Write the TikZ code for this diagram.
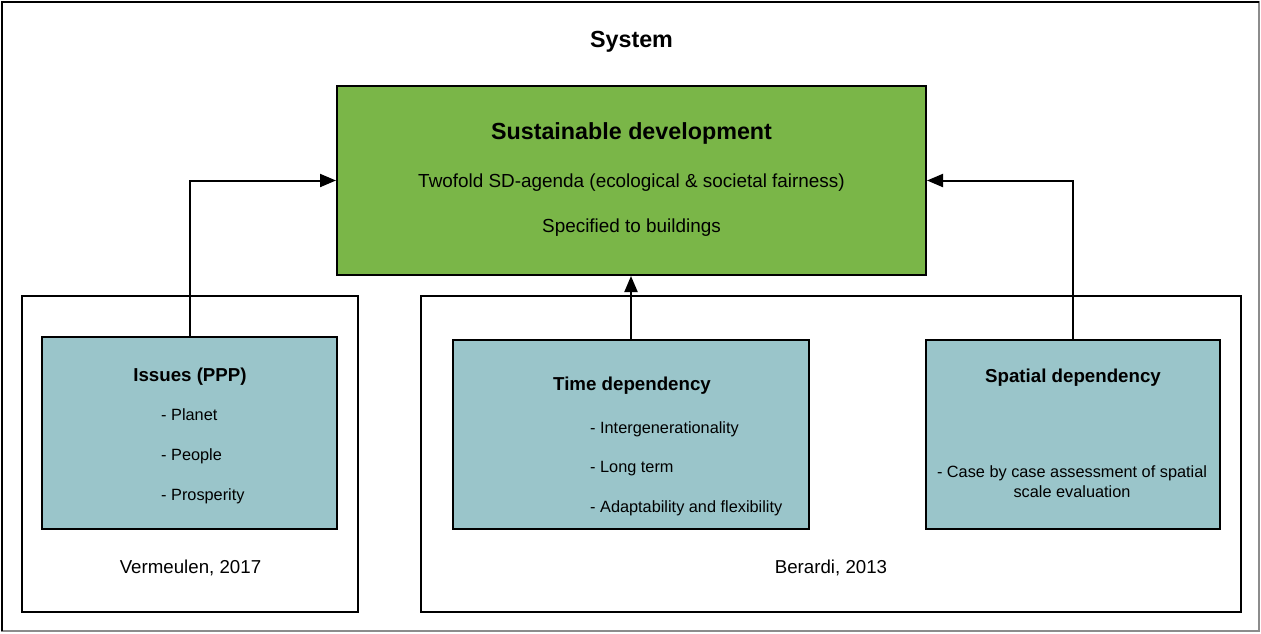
\documentclass[tikz,border=0pt]{standalone}
\usepackage{fontspec}
\setmainfont{Liberation Sans}
\usepackage{tikz}
\usetikzlibrary{arrows.meta}

\definecolor{sdgreen}{RGB}{122,182,72}
\definecolor{sdteal}{RGB}{154,197,202}

\tikzset{
  frame/.style={draw, line width=2pt, minimum width=#1},
  sdbox/.style={draw, line width=2pt, fill=sdgreen, minimum width=589pt, minimum height=189pt},
  subbox/.style={draw, line width=2pt, fill=sdteal, minimum width=#1},
  txt/.style={inner sep=0pt, anchor=base},
  item/.style={inner sep=0pt, anchor=base west, font=\fontsize{16.3}{20}\selectfont},
  link/.style={line width=2pt, -{Triangle[length=16pt,width=13pt]}}
}

\begin{document}
\begin{tikzpicture}[x=1pt, y=-1pt]
\useasboundingbox (0,0) rectangle (1261,633);
% outer frame
\draw[line width=2pt, black!45] (2,2) rectangle (1259,631);
\draw[line width=2pt] (2,631) -- (2,2) -- (1259,2);

\node[txt, font=\fontsize{23.3}{27}\bfseries] (sys) at (631.5,47.5) {System};

% main box
\node[sdbox] (sd) at (631.5,180.5) {};
\node[txt, font=\fontsize{23.3}{27}\bfseries] (sdtitle) at (631.5,139) {Sustainable development};
\node[txt, font=\fontsize{18.9}{22}\selectfont] (sdagenda) at (631.5,187.7) {Twofold SD-agenda (ecological \& societal fairness)};
\node[txt, font=\fontsize{18.9}{22}\selectfont] (sdbuild) at (631.5,232.7) {Specified to buildings};

% source frames
\node[frame=336pt, minimum height=316pt] (vframe) at (190,454) {};
\node[frame=820pt, minimum height=316pt] (bframe) at (831,454) {};
\node[txt, font=\fontsize{18.7}{22}\selectfont] (vref) at (190.5,573) {Vermeulen, 2017};
\node[txt, font=\fontsize{18.7}{22}\selectfont] (bref) at (831,573) {Berardi, 2013};

% issues
\node[subbox=295pt, minimum height=192pt] (issues) at (189.5,433) {};
\node[txt, font=\fontsize{18.7}{22}\bfseries] (istitle) at (190,381) {Issues (PPP)};
\node[item] (planet) at (161,420.7) {- Planet};
\node[item] (people) at (161,460.5) {- People};
\node[item] (prosp) at (161,500.2) {- Prosperity};

% time
\node[subbox=356pt, minimum height=189pt] (time) at (631,434.5) {};
\node[txt, font=\fontsize{18.7}{22}\bfseries] (ttitle) at (632,390) {Time dependency};
\node[item] (intergen) at (590,433.5) {- Intergenerationality};
\node[item] (longterm) at (590,472.8) {- Long term};
\node[item] (adapt) at (590,512.2) {- Adaptability and flexibility};

% spatial
\node[subbox=294pt, minimum height=189pt] (spatial) at (1073,434.5) {};
\node[txt, font=\fontsize{18.7}{22}\bfseries] (stitle) at (1073,382) {Spatial dependency};
\node[txt, font=\fontsize{16.3}{20}\selectfont, align=center] (scase) at (1072,497.7)
  {- Case by case assessment of spatial\\[0.5pt]scale evaluation};

% links
\draw[link] (issues.north) |- (sd.west);
\draw[link] (time.north) -- (time.north |- sd.south);
\draw[link] (spatial.north) |- (sd.east);
\end{tikzpicture}
\end{document}
